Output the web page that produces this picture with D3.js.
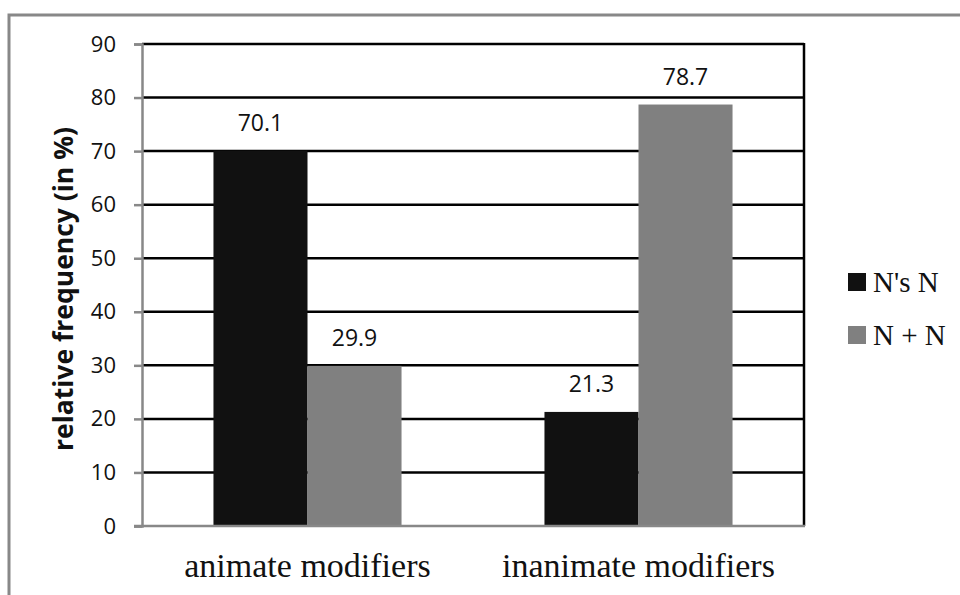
<!DOCTYPE html>
<html lang="en">
<head>
    <meta charset="UTF-8">
    <title>Relative frequency</title>
    <script src="https://d3js.org/d3.v7.min.js"></script>
    <style>
        body { margin: 0; background: #fff; }
    </style>
</head>
<body>
    <svg></svg>
    <script>
        const categories = ["animate modifiers", "inanimate modifiers"];
        const seriesNames = ["N's N", "N + N"];
        const sNsN = [70.1, 21.3];
        const nPlusN = [29.9, 78.7];
        const yTicks = [0, 10, 20, 30, 40, 50, 60, 70, 80, 90];
        const colors = ["#111111", "#808080"];

        const width = 960, height = 595;
        const plotLeft = 142, plotRight = 804, plotTop = 44, plotBottom = 526;

        const svg = d3.select("svg")
            .attr("width", width)
            .attr("height", height);

        // outer chart frame (runs off right/bottom)
        svg.append("rect")
            .attr("x", 9).attr("y", 15)
            .attr("width", 1000).attr("height", 1000)
            .style("fill", "none")
            .style("stroke", "#888")
            .style("stroke-width", 3);

        const y = d3.scaleLinear().domain([0, 90]).range([plotBottom, plotTop]);
        const x0 = d3.scaleBand().domain(categories).range([plotLeft, plotRight]);
        const x1 = d3.scaleBand().domain(seriesNames)
            .range([0, x0.bandwidth()])
            .paddingOuter(0.76);

        // gridlines
        svg.append("g")
            .selectAll("line")
            .data(yTicks.filter(d => d > 0))
            .join("line")
            .attr("x1", plotLeft).attr("x2", plotRight)
            .attr("y1", d => y(d)).attr("y2", d => y(d))
            .style("stroke", "#000")
            .style("stroke-width", 2.5);

        // right plot border
        svg.append("line")
            .attr("x1", plotRight).attr("x2", plotRight)
            .attr("y1", plotTop - 1).attr("y2", plotBottom)
            .style("stroke", "#000")
            .style("stroke-width", 2.5);

        const rows = categories.map((c, i) => ({
            cat: c,
            values: [sNsN[i], nPlusN[i]]
        }));

        // bars
        const groups = svg.append("g")
            .selectAll("g")
            .data(rows)
            .join("g")
            .attr("transform", d => `translate(${x0(d.cat)},0)`);

        groups.selectAll("rect")
            .data(d => d.values.map((v, j) => ({ key: seriesNames[j], v, j })))
            .join("rect")
            .attr("x", d => x1(d.key))
            .attr("y", d => y(d.v))
            .attr("width", x1.bandwidth())
            .attr("height", d => y(0) - y(d.v))
            .style("fill", d => colors[d.j]);

        groups.selectAll("text")
            .data(d => d.values.map((v, j) => ({ key: seriesNames[j], v, j })))
            .join("text")
            .attr("x", d => x1(d.key) + x1.bandwidth() / 2)
            .attr("y", d => y(d.v) - 20)
            .attr("text-anchor", "middle")
            .style("font-family", "'Open Sans', sans-serif")
            .style("font-size", "23px")
            .style("fill", "#111")
            .text(d => d.v.toFixed(1));

        // y axis
        const yAxis = d3.axisLeft(y).tickValues(yTicks).tickSize(8).tickPadding(18);
        const ya = svg.append("g")
            .attr("transform", `translate(${plotLeft},0)`)
            .call(yAxis);
        ya.select(".domain").style("stroke", "#888").style("stroke-width", 2.5);
        ya.selectAll(".tick line").style("stroke", "#888").style("stroke-width", 2.5);
        ya.selectAll(".tick text")
            .style("font-family", "'Open Sans', sans-serif")
            .style("font-size", "22px")
            .style("fill", "#111");

        // x axis line
        svg.append("line")
            .attr("x1", plotLeft - 8).attr("x2", plotRight + 1)
            .attr("y1", plotBottom).attr("y2", plotBottom)
            .style("stroke", "#888")
            .style("stroke-width", 2.5);

        // category labels
        svg.append("g")
            .selectAll("text")
            .data(categories)
            .join("text")
            .attr("x", d => x0(d) + x0.bandwidth() / 2)
            .attr("y", 577)
            .attr("text-anchor", "middle")
            .style("font-family", "'Liberation Serif', serif")
            .style("font-size", "34px")
            .style("fill", "#111")
            .text(d => d);

        // y label
        svg.append("text")
            .attr("transform", `translate(73,${(plotTop + plotBottom) / 2 + 4}) rotate(-90)`)
            .attr("text-anchor", "middle")
            .style("font-family", "'Open Sans', sans-serif")
            .style("font-weight", "bold")
            .style("font-size", "26.5px")
            .style("fill", "#111")
            .text("relative frequency (in %)");

        // legend
        const legend = svg.append("g")
            .selectAll("g")
            .data(seriesNames)
            .join("g")
            .attr("transform", (d, i) => `translate(848,${273 + i * 53})`);
        legend.append("rect")
            .attr("width", 18).attr("height", 18)
            .style("fill", (d, i) => colors[i]);
        legend.append("text")
            .attr("x", 25).attr("y", 19)
            .style("font-family", "'Liberation Serif', serif")
            .style("font-size", "29px")
            .style("fill", "#111")
            .text(d => d);
    </script>
</body>
</html>
